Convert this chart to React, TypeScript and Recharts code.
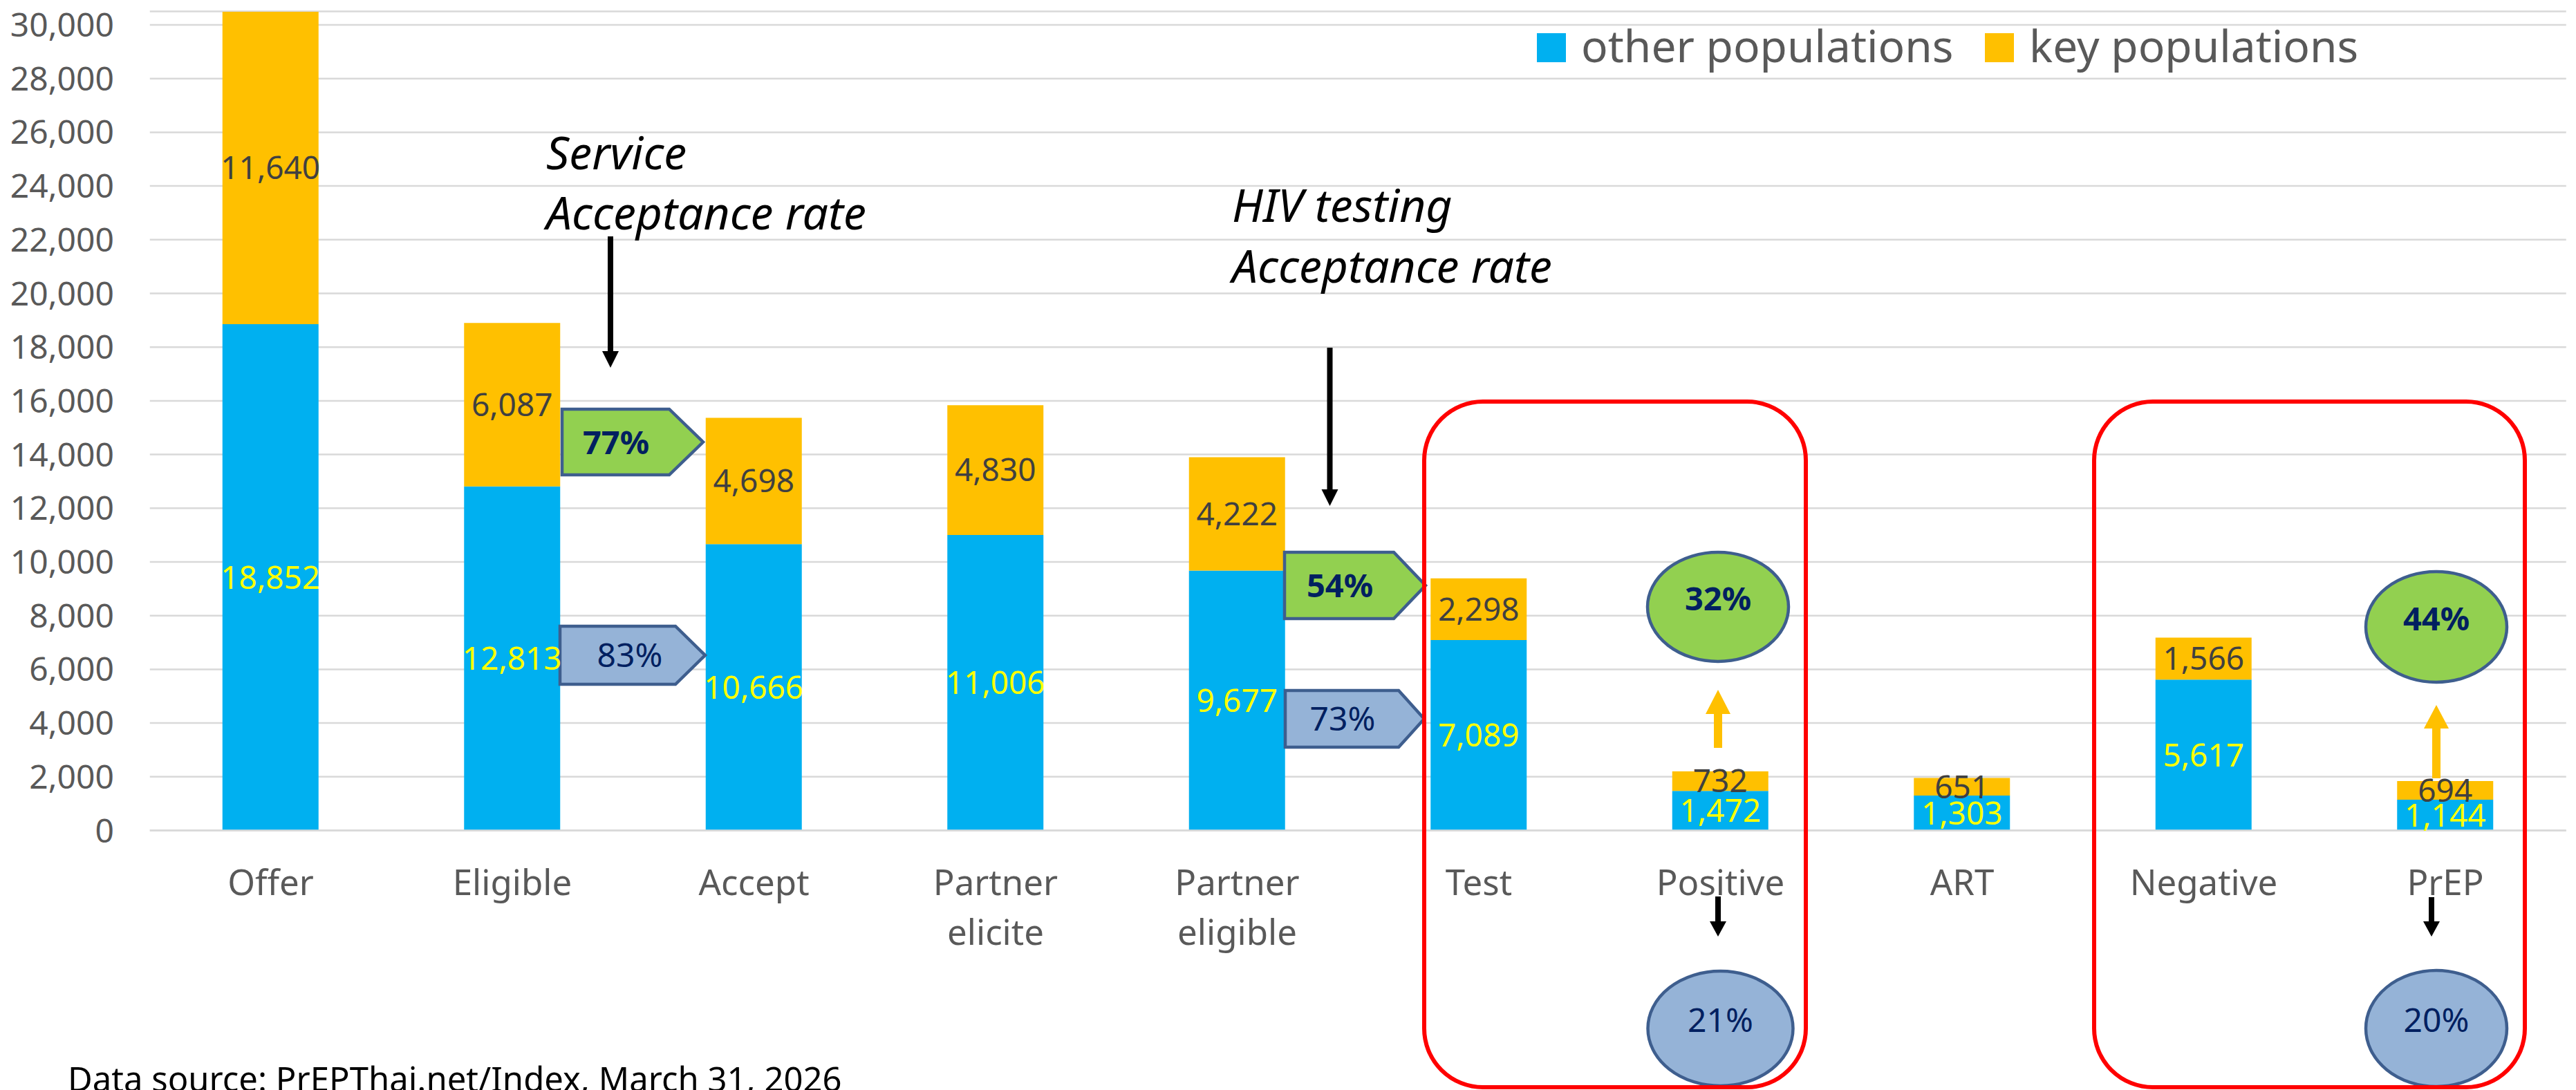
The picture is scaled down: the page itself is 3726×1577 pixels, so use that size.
import React from 'react';
import { BarChart, Bar, XAxis, YAxis, CartesianGrid, LabelList, Legend, ReferenceDot } from 'recharts';

// ---------- data ----------
const categories = ['Offer', 'Eligible', 'Accept', 'Partner elicite', 'Partner eligible', 'Test', 'Positive', 'ART', 'Negative', 'PrEP'];
const otherPopulations = [18852, 12813, 10666, 11006, 9677, 7089, 1472, 1303, 5617, 1144];
const keyPopulations = [11640, 6087, 4698, 4830, 4222, 2298, 732, 651, 1566, 694];
const seriesNames = ['other populations', 'key populations'];
const yTicks = [0, 2000, 4000, 6000, 8000, 10000, 12000, 14000, 16000, 18000, 20000, 22000, 24000, 26000, 28000, 30000];
const sourceNote = 'Data source: PrEPThai.net/Index, March 31, 2026';

const data = categories.map((name, i) => ({ name, other: otherPopulations[i], key: keyPopulations[i] }));

const FONT = "'Noto Sans', 'Open Sans', 'DejaVu Sans', sans-serif";
const BLUE = '#00B0F0';
const ORANGE = '#FFC000';
const GREEN_FILL = '#92D050';
const BLUE_FILL = '#95B3D7';
const OUTLINE = '#3E5E8E';
const NAVY = '#002060';

const idx = (c: string) => categories.indexOf(c);
const seriesOf = (s: string) => (s === 'key' ? keyPopulations : otherPopulations);
const rate = (s: string, from: string, to: string) =>
  `${Math.round((seriesOf(s)[idx(to)] / seriesOf(s)[idx(from)]) * 100)}%`;
const fmt = (v: any) => Number(v).toLocaleString('en-US');

// ---------- annotation layout ----------
const chevrons = [
  { at: 'Eligible', y: 14466, left: 72, tipStart: 227, right: 276, h: 95, textDx: 150, series: 'key', from: 'Eligible', to: 'Accept' },
  { at: 'Eligible', y: 6525, left: 69, tipStart: 236, right: 279, h: 84, textDx: 170, series: 'other', from: 'Eligible', to: 'Accept' },
  { at: 'Partner eligible', y: 9125, left: 68.5, tipStart: 226.5, right: 272.5, h: 96, textDx: 148.5, series: 'key', from: 'Partner eligible', to: 'Test' },
  { at: 'Partner eligible', y: 4157, left: 69.5, tipStart: 233.5, right: 270.5, h: 82, textDx: 152.5, series: 'other', from: 'Partner eligible', to: 'Test' },
];

const ovals = [
  { at: 'Positive', y: 8327, dx: -3.5, rx: 102, ry: 79, series: 'key', from: 'Test', to: 'Positive' },
  { at: 'Positive', y: -7375, dx: 0, rx: 105, ry: 83, series: 'other', from: 'Test', to: 'Positive' },
  { at: 'PrEP', y: 7580, dx: -13, rx: 102, ry: 80, series: 'key', from: 'Negative', to: 'PrEP' },
  { at: 'PrEP', y: -7375, dx: -13, rx: 102, ry: 84, series: 'other', from: 'Negative', to: 'PrEP' },
];

const arrows = [
  { at: 'Eligible', y: 22124, dx: 142, len: 190, shaft: 8, head: 24, headLen: 24, color: '#000000', dir: 'down' },
  { at: 'Partner eligible', y: 17979, dx: 134, len: 229, shaft: 8, head: 24, headLen: 24, color: '#000000', dir: 'down' },
  { at: 'Positive', y: -2458, dx: -3.5, len: 58, shaft: 8, head: 24, headLen: 22, color: '#000000', dir: 'down' },
  { at: 'PrEP', y: -2484, dx: -20, len: 57, shaft: 8, head: 24, headLen: 22, color: '#000000', dir: 'down' },
  { at: 'Positive', y: 5238, dx: -3.5, len: 84, shaft: 12, head: 36, headLen: 35, color: ORANGE, dir: 'up' },
  { at: 'PrEP', y: 4672, dx: -13, len: 106, shaft: 12, head: 36, headLen: 34, color: ORANGE, dir: 'up' },
];

const groups = [
  { at: 'Test', y: 15972, dx: -79, w: 552, h: 992 },
  { at: 'Negative', y: 15972, dx: -158.5, w: 623, h: 992 },
];

const captions = [
  { at: 'Eligible', y: 24620, dx: 49, lines: ['Service', 'Acceptance rate'], gap: 87 },
  { at: 'Partner eligible', y: 22664, dx: -7.5, lines: ['HIV testing', 'Acceptance rate'], gap: 87.5 },
];

// ---------- shapes ----------
const chevronShape = (c: any) => (p: any) => {
  const { cx, cy } = p;
  const top = cy - c.h / 2;
  const bot = cy + c.h / 2;
  const pts = [
    [cx + c.left, top], [cx + c.tipStart, top], [cx + c.right, cy], [cx + c.tipStart, bot], [cx + c.left, bot],
  ].map((q) => q.join(',')).join(' ');
  const isKey = c.series === 'key';
  return (
    <g>
      <polygon points={pts} fill={isKey ? GREEN_FILL : BLUE_FILL} stroke={OUTLINE} strokeWidth={4.5} />
      <text x={cx + c.textDx} y={cy + 17} textAnchor="middle" fontFamily={FONT} fontSize={isKey ? 47 : 48}
        fontWeight={isKey ? 700 : 400} fill={NAVY}>{rate(c.series, c.from, c.to)}</text>
    </g>
  );
};

const ovalShape = (o: any) => (p: any) => {
  const cx = p.cx + o.dx;
  const cy = p.cy;
  const isKey = o.series === 'key';
  return (
    <g>
      <ellipse cx={cx} cy={cy} rx={o.rx} ry={o.ry} fill={isKey ? GREEN_FILL : BLUE_FILL} stroke={OUTLINE} strokeWidth={4.5} />
      <text x={cx} y={cy - 12 + 17} textAnchor="middle" fontFamily={FONT} fontSize={isKey ? 47 : 48}
        fontWeight={isKey ? 700 : 400} fill={NAVY}>{rate(o.series, o.from, o.to)}</text>
    </g>
  );
};

const arrowShape = (a: any) => (p: any) => {
  const x = p.cx + a.dx;
  const s = a.shaft / 2;
  const h = a.head / 2;
  let pts: number[][];
  if (a.dir === 'down') {
    const t = p.cy;
    const hb = t + a.len - a.headLen;
    pts = [[x - s, t], [x + s, t], [x + s, hb], [x + h, hb], [x, t + a.len], [x - h, hb], [x - s, hb]];
  } else {
    const t = p.cy;
    const hb = t + a.headLen;
    pts = [[x, t], [x + h, hb], [x + s, hb], [x + s, t + a.len], [x - s, t + a.len], [x - s, hb], [x - h, hb]];
  }
  return <polygon points={pts.map((q) => q.join(',')).join(' ')} fill={a.color} />;
};

const groupShape = (g: any) => (p: any) => (
  <rect x={p.cx + g.dx} y={p.cy} width={g.w} height={g.h} rx={85} ry={85} fill="none" stroke="#FF0000" strokeWidth={6} />
);

const captionShape = (c: any) => (p: any) => (
  <text x={p.cx + c.dx} y={p.cy} fontFamily={FONT} fontSize={66} fontStyle="italic" fill="#000000">
    {c.lines.map((l: string, i: number) => (
      <tspan key={i} x={p.cx + c.dx} dy={i === 0 ? 0 : c.gap}>{l}</tspan>
    ))}
  </text>
);

// ---------- axis / legend ----------
const XTick = (props: any) => {
  const { x, y, payload } = props;
  const lines = String(payload.value).split(' ');
  return (
    <text x={x} y={y} textAnchor="middle" fill="#595959" fontSize={51} fontFamily={FONT}>
      {lines.map((l, i) => (
        <tspan key={i} x={x} dy={i === 0 ? 93.5 : 72}>{l}</tspan>
      ))}
    </text>
  );
};

const legendSquaresX = [2223, 2871];
const legendTextX = [2287, 2935];

const LegendContent = (props: any) => {
  const payload = [...(props.payload || [])].sort(
    (a: any, b: any) => seriesNames.indexOf(a.value) - seriesNames.indexOf(b.value),
  );
  return (
    <svg width={3726} height={140} style={{ display: 'block' }}>
      {payload.map((entry: any, i: number) => (
        <g key={i}>
          <rect x={legendSquaresX[i]} y={48} width={42} height={42} fill={entry.color} />
          <text x={legendTextX[i]} y={90} fontFamily={FONT} fontSize={64} fill="#595959">{entry.value}</text>
        </g>
      ))}
    </svg>
  );
};

export default function App() {
  return (
    <div style={{ position: 'absolute', left: 0, top: 0, width: 3726, height: 1577, background: '#ffffff', overflow: 'hidden' }}>
      <BarChart width={3726} height={1577} data={data} margin={{ top: 16.6, right: 14.25, left: 0, bottom: 0 }}>
        <CartesianGrid vertical={false} stroke="#D9D9D9" strokeWidth={2.5} />
        <XAxis dataKey="name" height={375.5} tickLine={false} tickSize={0} tickMargin={0}
          axisLine={{ stroke: '#D9D9D9', strokeWidth: 2.5 }} tick={<XTick />} interval={0} />
        <YAxis width={216.75} domain={[0, 30500]} allowDataOverflow ticks={yTicks} tickFormatter={fmt}
          axisLine={false} tickLine={false} tickSize={0} tickMargin={51.75}
          tick={{ fill: '#595959', fontSize: 48, fontFamily: FONT }} />
        <Legend layout="horizontal" verticalAlign="middle" align="center" content={<LegendContent />}
          wrapperStyle={{ position: 'absolute', top: 0, left: 0, width: 3726, height: 140 }} />
        <Bar dataKey="other" name={seriesNames[0]} stackId="a" fill={BLUE} barSize={139} isAnimationActive={false}>
          <LabelList dataKey="other" position="center" formatter={fmt} fill="#FFFF00" fontSize={46} fontFamily={FONT} />
        </Bar>
        <Bar dataKey="key" name={seriesNames[1]} stackId="a" fill={ORANGE} barSize={139} isAnimationActive={false}>
          <LabelList dataKey="key" position="center" formatter={fmt} fill="#404040" fontSize={46} fontFamily={FONT} />
        </Bar>
        {captions.map((c, i) => (
          <ReferenceDot key={`cap${i}`} x={c.at} y={c.y} ifOverflow="visible" shape={captionShape(c)} />
        ))}
        {arrows.map((a, i) => (
          <ReferenceDot key={`arr${i}`} x={a.at} y={a.y} ifOverflow="visible" shape={arrowShape(a)} />
        ))}
        {chevrons.map((c, i) => (
          <ReferenceDot key={`chev${i}`} x={c.at} y={c.y} ifOverflow="visible" shape={chevronShape(c)} />
        ))}
        {ovals.map((o, i) => (
          <ReferenceDot key={`oval${i}`} x={o.at} y={o.y} ifOverflow="visible" shape={ovalShape(o)} />
        ))}
        {groups.map((g, i) => (
          <ReferenceDot key={`grp${i}`} x={g.at} y={g.y} ifOverflow="visible" shape={groupShape(g)} />
        ))}
      </BarChart>
      <svg width={3726} height={1577} style={{ position: 'absolute', left: 0, top: 0, pointerEvents: 'none' }}>
        <text x={98} y={1579} fontFamily={FONT} fontSize={49} fill="#000000">{sourceNote}</text>
      </svg>
    </div>
  );
}
